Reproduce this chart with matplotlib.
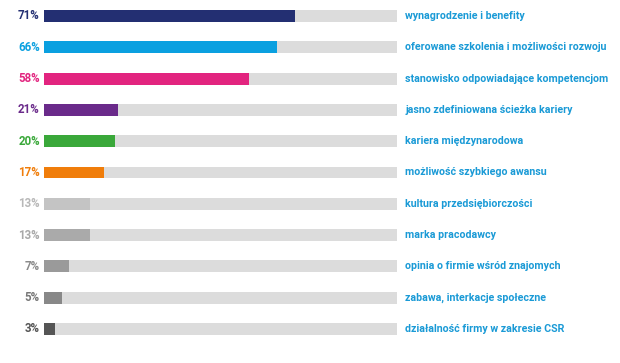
import matplotlib
matplotlib.use("Agg")
import matplotlib.pyplot as plt

categories = [
    "wynagrodzenie i benefity",
    "oferowane szkolenia i możliwości rozwoju",
    "stanowisko odpowiadające kompetencjom",
    "jasno zdefiniowana ścieżka kariery",
    "kariera międzynarodowa",
    "możliwość szybkiego awansu",
    "kultura przedsiębiorczości",
    "marka pracodawcy",
    "opinia o firmie wśród znajomych",
    "zabawa, interkacje społeczne",
    "działalność firmy w zakresie CSR",
]
values = [71, 66, 58, 21, 20, 17, 13, 13, 7, 5, 3]
colors = ["#232f72", "#0aa0e0", "#e2247f", "#6a2a8a", "#3aa83a", "#f07d0a",
          "#c4c4c4", "#aaaaaa", "#9a9a9a", "#888888", "#555555"]
pct_colors = ["#232f72", "#0aa0e0", "#e2247f", "#6a2a8a", "#3aa83a", "#f07d0a",
              "#b8b8b8", "#a8a8a8", "#8a8a8a", "#777777", "#555555"]
label_color = "#1a9ad6"

W, H = 620, 363
fig = plt.figure(figsize=(W / 100, H / 100), dpi=100)
ax = fig.add_axes([44 / W, (H - 344.65) / H, 353 / W, 344.3 / H])

ys = list(range(len(values)))
ax.barh(ys, [100] * len(values), height=0.38, color="#dcdcdc", zorder=1)
ax.barh(ys, values, height=0.38, color=colors, zorder=2)

for y, v, pc, cat in zip(ys, values, pct_colors, categories):
    ax.text(-1.2, y, f"{v}%", ha="right", va="center", color=pc,
            fontsize=8.3, fontweight="bold", family="Roboto", clip_on=False)
    ax.text(102.3, y, cat, ha="left", va="center", color=label_color,
            fontsize=7.7, fontweight="bold", family="Roboto", clip_on=False)

ax.set_xlim(0, 100)
ax.set_ylim(10.5, -0.5)
ax.axis("off")

fig.savefig("out.png", dpi=100)
